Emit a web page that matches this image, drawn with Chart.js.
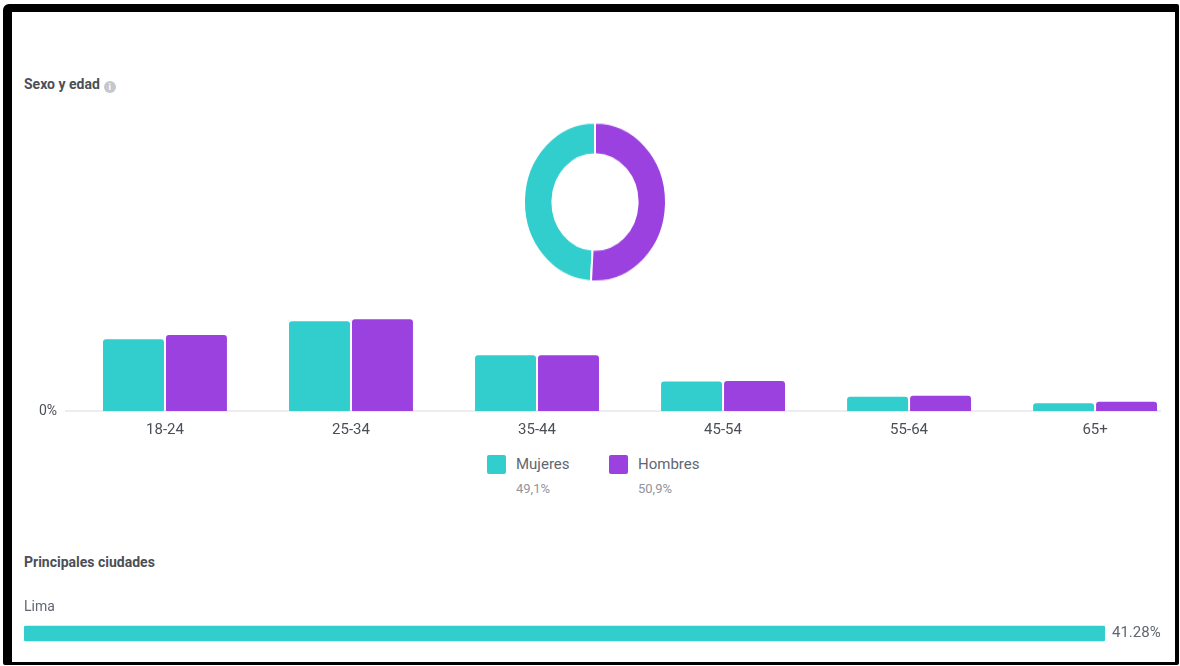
<!DOCTYPE html>
<html lang="es">
<head>
<meta charset="utf-8">
<title>Sexo y edad</title>
<script src="https://cdn.jsdelivr.net/npm/chart.js@4.4.1/dist/chart.umd.min.js"></script>
<style>
  html, body { margin: 0; padding: 0; background: #fff; }
  body { width: 1180px; height: 666px; position: relative; overflow: hidden; font-family: Roboto, "Noto Sans", sans-serif; }
  .abs { position: absolute; }
  .frame {
    position: absolute; left: 3px; top: 4px; width: 1176px; height: 661px;
    box-sizing: border-box; border: solid #000; border-width: 8px 4px 3px 9px;
    border-radius: 6px 2px 2px 2px; z-index: 5; pointer-events: none;
  }
  .heading { font-size: 14px; font-weight: 700; color: #4b4f56; line-height: 16px; }
  .info {
    display: inline-block; width: 12px; height: 12px; border-radius: 50%;
    background: #c4c7cc; color: #fff; font-size: 9px; font-weight: 700;
    text-align: center; line-height: 12px; vertical-align: -1px; margin-left: 4px;
  }
  #donut { transform: scaleY(1.12); transform-origin: 50% 50%; }
  .item { position: absolute; top: 0; }
  .swatch { position: absolute; left: 0; top: 0; width: 19px; height: 19px; border-radius: 2px; }
  .name { position: absolute; left: 29px; top: 0; font-size: 15px; line-height: 19px; color: #606770; white-space: nowrap; }
  .share { position: absolute; left: 29px; top: 27px; font-size: 13px; line-height: 14px; color: #90949c; white-space: nowrap; }
</style>
</head>
<body>
<div class="frame"></div>

<div class="abs heading" style="left:24px; top:76px;">Sexo y edad<span class="info">i</span></div>

<canvas id="donut" class="abs" width="144" height="144" style="left:523px; top:130px;"></canvas>
<canvas id="ages" class="abs" width="1163" height="169" style="left:12px; top:280px;"></canvas>
<div id="legend" class="abs" style="left:487px; top:455px;"></div>

<div class="abs heading" style="left:24px; top:554px;">Principales ciudades</div>
<canvas id="cities" class="abs" width="1163" height="72" style="left:12px; top:590px;"></canvas>

<script>
// audience by gender
const genders = ['Mujeres', 'Hombres'];
const genderShares = [49.1, 50.9];
const genderColors = ['#32cdcd', '#9b41df'];

// audience by age group (% of total)
const ageGroups = ['18-24', '25-34', '35-44', '45-54', '55-64', '65+'];
const womenByAge = [13.1, 16.4, 10.2, 5.4, 2.6, 1.4];
const menByAge = [13.9, 16.8, 10.2, 5.5, 2.8, 1.7];

// top cities
const cities = ['Lima'];
const cityShares = [41.28];

const textColor = '#4b4f56';
const fmtComma = v => v.toFixed(1).replace('.', ',') + '%';

function drawLegend() {
  const box = document.getElementById('legend');
  genders.forEach((g, i) => {
    const item = document.createElement('div');
    item.className = 'item';
    item.style.left = (i * 122) + 'px';
    item.innerHTML =
      '<div class="swatch" style="background:' + genderColors[i] + '"></div>' +
      '<div class="name">' + g + '</div>' +
      '<div class="share">' + fmtComma(genderShares[i]) + '</div>';
    box.appendChild(item);
  });
}

function drawDonut() {
  // women arc ends at the top, men start there and run clockwise
  const startAngle = -360 * genderShares[0] / 100;
  new Chart(document.getElementById('donut'), {
    type: 'doughnut',
    data: {
      labels: genders,
      datasets: [{
        data: genderShares,
        backgroundColor: genderColors,
        borderColor: '#fff',
        borderWidth: 2
      }]
    },
    options: {
      responsive: false,
      animation: false,
      rotation: startAngle,
      cutout: '60%',
      layout: { padding: 0 },
      plugins: { legend: { display: false }, tooltip: { enabled: false } }
    }
  });
}

function drawAges() {
  const series = (vals) => vals.map((v, i) => ({ x: i, y: v }));
  new Chart(document.getElementById('ages'), {
    type: 'bar',
    data: {
      datasets: [
        { label: genders[0], data: series(womenByAge), backgroundColor: genderColors[0] },
        { label: genders[1], data: series(menByAge), backgroundColor: genderColors[1] }
      ]
    },
    options: {
      responsive: false,
      animation: false,
      categoryPercentage: 0.677,
      barPercentage: 0.968,
      borderRadius: { topLeft: 3, topRight: 3 },
      borderSkipped: 'start',
      layout: { padding: { top: 20, right: 15, left: 0, bottom: 0 } },
      scales: {
        x: {
          type: 'linear',
          offset: false,
          min: -0.532,
          max: 5.349,
          grid: { display: false, drawTicks: false, offset: false },
          border: { color: '#ebedf0', width: 2 },
          ticks: {
            stepSize: 1,
            includeBounds: false,
            padding: 10,
            color: textColor,
            font: { size: 15 },
            maxRotation: 0,
            autoSkip: false,
            callback: v => (Number.isInteger(v) && ageGroups[v]) ? ageGroups[v] : null
          }
        },
        y: {
          min: 0,
          max: 20.3,
          grid: { display: false, drawTicks: false },
          border: { display: false },
          afterBuildTicks: s => { s.ticks = [{ value: 0 }]; },
          afterFit: s => { s.width = 54; },
          ticks: {
            padding: 9,
            color: textColor,
            font: { size: 14 },
            callback: v => v + '%'
          }
        }
      },
      plugins: { legend: { display: false }, tooltip: { enabled: false } }
    }
  });
}

// city name above each bar, share right after it
const cityLabels = {
  id: 'cityLabels',
  afterDatasetsDraw(chart) {
    const ctx = chart.ctx;
    const meta = chart.getDatasetMeta(0);
    ctx.save();
    ctx.textBaseline = 'middle';
    ctx.fillStyle = '#606770';
    meta.data.forEach((bar, i) => {
      ctx.font = '14px Roboto';
      ctx.textAlign = 'left';
      ctx.fillText(chart.data.labels[i], chart.chartArea.left, bar.y - 26);
      ctx.font = '15px Roboto';
      ctx.fillText(cityShares[i].toFixed(2) + '%', bar.x + 7, bar.y);
    });
    ctx.restore();
  }
};

function drawCities() {
  new Chart(document.getElementById('cities'), {
    type: 'bar',
    data: {
      labels: cities,
      datasets: [{
        data: cityShares,
        backgroundColor: genderColors[0],
        barThickness: 15,
        borderRadius: 2,
        borderSkipped: false
      }]
    },
    options: {
      indexAxis: 'y',
      responsive: false,
      animation: false,
      layout: { padding: { top: 27, bottom: 12, left: 12, right: 70 } },
      scales: {
        x: { display: false, min: 0, max: Math.max(...cityShares) },
        y: { display: false }
      },
      plugins: { legend: { display: false }, tooltip: { enabled: false } }
    },
    plugins: [cityLabels]
  });
}

Chart.defaults.font.family = 'Roboto, "Noto Sans", sans-serif';
Chart.defaults.devicePixelRatio = 1;

Promise.all([
  document.fonts.load('14px Roboto'),
  document.fonts.load('bold 14px Roboto')
]).catch(() => {}).then(() => {
  drawLegend();
  drawDonut();
  drawAges();
  drawCities();
});
</script>
</body>
</html>
